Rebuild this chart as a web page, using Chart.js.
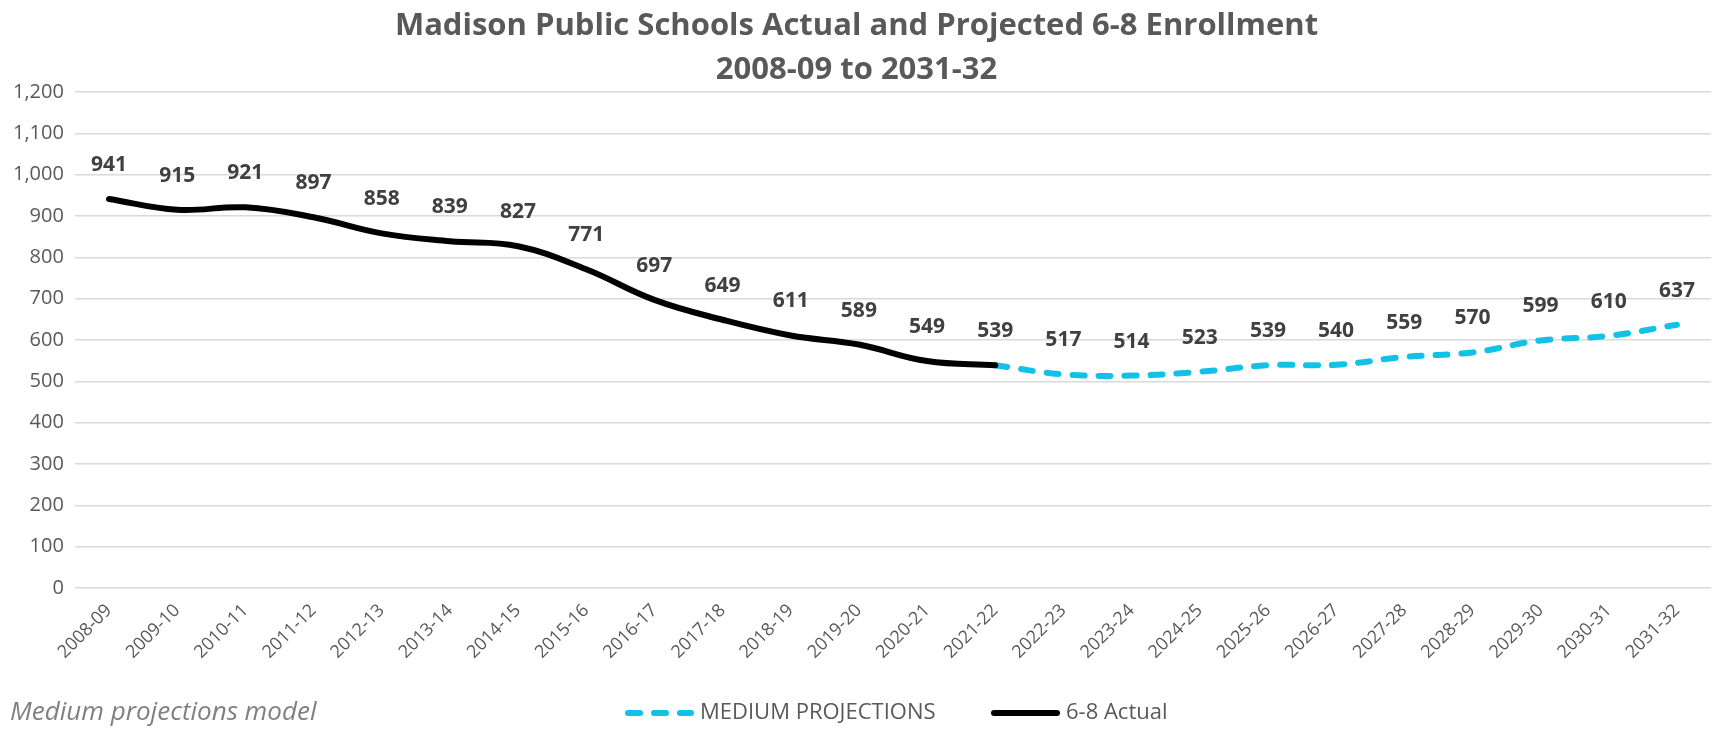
<!DOCTYPE html>
<html>
<head>
<meta charset="utf-8">
<script src="https://cdn.jsdelivr.net/npm/chart.js@4.4.0/dist/chart.umd.min.js"></script>
<style>
  html, body { margin: 0; padding: 0; background: #fff; }
  #wrap { width: 1717px; height: 735px; }
</style>
</head>
<body>
<div id="wrap"><canvas id="enrollChart"></canvas></div>
<script>
// school years on the x axis
const years = [
  '2008-09', '2009-10', '2010-11', '2011-12', '2012-13', '2013-14', '2014-15', '2015-16',
  '2016-17', '2017-18', '2018-19', '2019-20', '2020-21', '2021-22', '2022-23', '2023-24',
  '2024-25', '2025-26', '2026-27', '2027-28', '2028-29', '2029-30', '2030-31', '2031-32'
];

// actual 6-8 enrollment (through 2021-22)
const actual = [941, 915, 921, 897, 858, 839, 827, 771, 697, 649, 611, 589, 549, 539,
  null, null, null, null, null, null, null, null, null, null];

// medium projections (joined to the last actual year)
const projected = [null, null, null, null, null, null, null, null, null, null, null, null, null, 539,
  517, 514, 523, 539, 540, 559, 570, 599, 610, 637];

const yTicks = [0, 100, 200, 300, 400, 500, 600, 700, 800, 900, 1000, 1100, 1200];

const FONT = "'Open Sans', 'Liberation Sans', sans-serif";
const CYAN = '#12c1e6';
const DASH = [12, 14];

// value labels above points; projection label skipped where actual already has one
const valueLabels = {
  id: 'valueLabels',
  afterDatasetsDraw(chart) {
    const ctx = chart.ctx;
    ctx.save();
    ctx.font = 'bold 21px ' + FONT;
    ctx.fillStyle = '#404040';
    ctx.textAlign = 'center';
    ctx.textBaseline = 'middle';
    chart.data.datasets.forEach((ds, di) => {
      const meta = chart.getDatasetMeta(di);
      meta.data.forEach((pt, i) => {
        const v = ds.data[i];
        if (v == null) return;
        if (di === 0 && actual[i] != null) return;
        ctx.fillText(v.toString(), pt.x, pt.y - 34);
      });
    });
    ctx.restore();
  }
};

// bottom legend + footnote
const bottomNotes = {
  id: 'bottomNotes',
  afterDraw(chart) {
    const ctx = chart.ctx;
    const y = 713;
    ctx.save();
    ctx.font = 'italic 26px ' + FONT;
    ctx.fillStyle = '#808080';
    ctx.textBaseline = 'middle';
    ctx.textAlign = 'left';
    ctx.fillText('Medium projections model', 10, y);

    ctx.font = '22px ' + FONT;
    ctx.fillStyle = '#595959';
    const items = [
      { text: 'MEDIUM PROJECTIONS', color: CYAN, dash: DASH, x: 625, w: 66 },
      { text: '6-8 Actual', color: '#000', dash: [], x: 991, w: 66 }
    ];
    items.forEach(it => {
      ctx.beginPath();
      ctx.setLineDash(it.dash);
      ctx.lineCap = 'round';
      ctx.lineWidth = 6;
      ctx.strokeStyle = it.color;
      ctx.moveTo(it.x + 3, y);
      ctx.lineTo(it.x + it.w, y);
      ctx.stroke();
      ctx.setLineDash([]);
      ctx.fillText(it.text, it.x + it.w + 9, y);
    });
    ctx.restore();
  }
};

new Chart(document.getElementById('enrollChart'), {
  type: 'line',
  data: {
    labels: years,
    datasets: [
      {
        label: 'MEDIUM PROJECTIONS',
        data: projected,
        borderColor: CYAN,
        borderWidth: 6,
        borderDash: DASH,
        borderCapStyle: 'round',
        tension: 0.4,
        pointRadius: 0,
        spanGaps: false,
        order: 2
      },
      {
        label: '6-8 Actual',
        data: actual,
        borderColor: '#000000',
        borderWidth: 6,
        borderCapStyle: 'round',
        tension: 0.4,
        pointRadius: 0,
        order: 1
      }
    ]
  },
  options: {
    responsive: true,
    maintainAspectRatio: false,
    animation: false,
    layout: { padding: { top: 4, left: 2, right: 6, bottom: 68 } },
    plugins: {
      legend: { display: false },
      tooltip: { enabled: false },
      title: {
        display: true,
        text: ['Madison Public Schools Actual and Projected 6-8 Enrollment', '2008-09 to 2031-32'],
        color: '#595959',
        font: { family: FONT, size: 31, weight: 'bold', lineHeight: 1.42 },
        padding: { top: 0, bottom: 0 }
      }
    },
    scales: {
      x: {
        offset: true,
        grid: { display: false },
        border: { display: false },
        ticks: {
          color: '#595959',
          font: { family: FONT, size: 18 },
          maxRotation: 45,
          minRotation: 45,
          autoSkip: false,
          padding: 4
        }
      },
      y: {
        min: 0,
        max: 1200,
        afterBuildTicks(axis) {
          axis.ticks = yTicks.map(v => ({ value: v }));
        },
        grid: { color: '#d9d9d9', lineWidth: 1.5, drawTicks: false },
        border: { display: false },
        ticks: {
          color: '#595959',
          font: { family: FONT, size: 20 },
          padding: 11,
          callback: v => v.toLocaleString('en-US')
        }
      }
    }
  },
  plugins: [valueLabels, bottomNotes]
});
</script>
</body>
</html>
